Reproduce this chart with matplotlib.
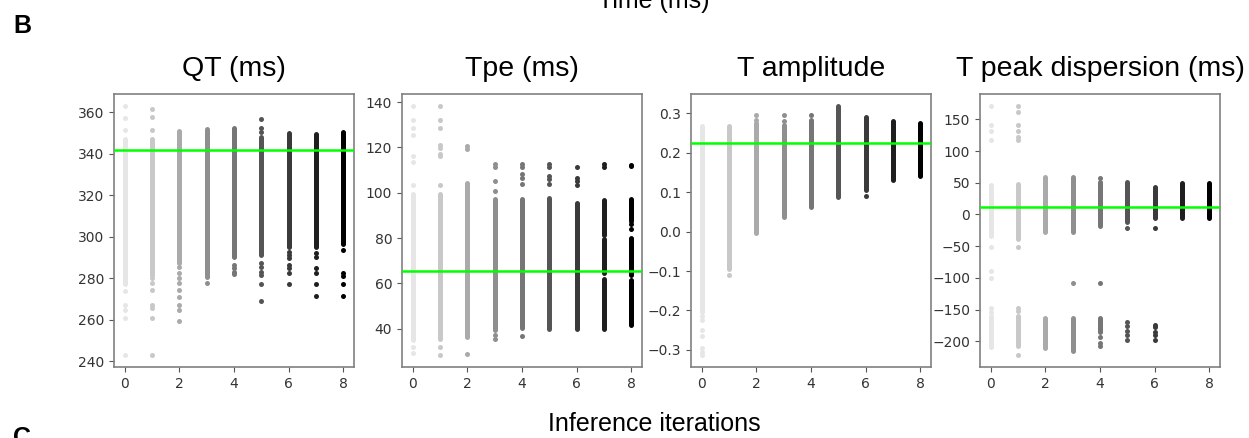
import matplotlib
matplotlib.use("Agg")
import matplotlib.pyplot as plt

# ---------------- data ----------------
iterations = [0, 1, 2, 3, 4, 5, 6, 7, 8]
iter_colors = ["#e6e6e6", "#c8c8c8", "#aaaaaa", "#8f8f8f", "#767676",
               "#555555", "#3a3a3a", "#1f1f1f", "#000000"]

titles = ["QT (ms)", "Tpe (ms)", "T amplitude", "T peak dispersion (ms)"]

# QT (ms): dense value ranges and isolated values per iteration
qt_bands = [[(277, 347)], [(281.6, 347)], [(287.2, 350.9)], [(280.8, 352)],
            [(290.4, 352.5)], [(291.2, 348)], [(295.2, 349.9)], [(295.2, 349.6)],
            [(296.5, 350.4)]]
qt_points = [[362.7, 357.3, 351.5, 273.6, 267.2, 264.8, 260.8, 243.2],
             [361.6, 357.6, 351.5, 280, 277.6, 274.4, 267.2, 265.6, 260.8, 243.2],
             [285.6, 282.4, 280, 277.6, 274.4, 270.9, 267.2, 264.8, 259.2],
             [277.6],
             [286.4, 284.8, 283.2, 282],
             [356.8, 352.3, 350.4, 287.2, 285.6, 283.2, 281.6, 277.3, 269.1],
             [292.8, 291.2, 289.6, 286.4, 284.8, 282.7, 277.3],
             [292, 290, 284.8, 282.4, 277.3, 271.2],
             [293.6, 282.7, 281.1, 277.3, 271.2]]
qt_ref = 341.6

# Tpe (ms)
tpe_bands = [[(35, 99.5)], [(35.6, 99.3)], [(36.3, 104.4)], [(39.3, 97.4)],
             [(40.3, 97.1)], [(40, 97.8)], [(40, 95.6)],
             [(40, 62), (64.5, 79.5), (81.5, 96.7)],
             [(41.5, 61.5), (63.5, 80), (87.5, 97.4)]]
tpe_points = [[138.1, 132.2, 128.6, 125.7, 116.1, 113.6, 103.4, 32, 29.3],
              [138.1, 132.2, 128.6, 121, 119.8, 116.9, 116.1, 103.3, 32, 28.6],
              [120.5, 119.1, 28.7],
              [112.5, 111.5, 105.2, 100.8, 37.1, 35.3],
              [112.5, 111.5, 108.1, 106.6, 103.7, 36.8],
              [112.5, 111.5, 107.5, 106, 104],
              [111.4, 106.5, 105.2, 103.4],
              [112.5, 111.5],
              [112.2, 111.6, 86, 84]]
tpe_ref = 65.5

# T amplitude
tamp_bands = [[(-0.203, 0.269)], [(-0.094, 0.269)], [(-0.004, 0.275)], [(0.038, 0.271)],
              [(0.063, 0.283)], [(0.088, 0.318)], [(0.107, 0.29)], [(0.13, 0.282)],
              [(0.142, 0.277)]]
tamp_points = [[-0.215, -0.225, -0.25, -0.265, -0.295, -0.305, -0.312],
               [-0.109],
               [0.296, 0.283],
               [0.296, 0.281],
               [0.296],
               [],
               [0.09],
               [],
               []]
tamp_ref = 0.2245

# T peak dispersion (ms)
tpd_bands = [[(-209.5, -159.8), (-34.4, 46.6)],
             [(-206.8, -159.8), (-38.6, 47.6)],
             [(-211, -164), (-28.2, 58.6)],
             [(-214.7, -164), (-28.2, 59.6)],
             [(-186, -164), (-18.8, 51.8)],
             [(-12.5, 51.8)],
             [(-5.7, 44)],
             [(-5.7, 49.2)],
             [(-5.7, 50)]]
tpd_points = [[170.4, 140.6, 131.7, 118.1, -51.7, -89.3, -99.7, -146.8, -153.6],
              [170.4, 161, 140.6, 131.7, 122, 118, -51.7, -146.8, -152, -221],
              [],
              [-108.6],
              [57, -108.6, -194, -202, -207],
              [-21.4, -170.3, -176.5, -183.3, -190, -197.4],
              [-21.4, -174.5, -178, -186, -190, -197.4],
              [],
              []]
tpd_ref = 11.5

all_bands = [qt_bands, tpe_bands, tamp_bands, tpd_bands]
all_points = [qt_points, tpe_points, tamp_points, tpd_points]
all_refs = [qt_ref, tpe_ref, tamp_ref, tpd_ref]
y_ticks = [[240, 260, 280, 300, 320, 340, 360],
           [40, 60, 80, 100, 120, 140],
           [-0.3, -0.2, -0.1, 0.0, 0.1, 0.2, 0.3],
           [-200, -150, -100, -50, 0, 50, 100, 150]]
x_ticks = [0, 2, 4, 6, 8]

# ---------------- figure ----------------
W, H = 1249, 438
fig = plt.figure(figsize=(W / 100, H / 100), dpi=100)

lefts_px = [114, 402, 691, 980]
ax_w_px, top_px, bot_px = 240, 94, 367
sans = ["Liberation Sans", "DejaVu Sans"]

dot_pt = 3.6
for k in range(4):
    ax = fig.add_axes([lefts_px[k] / W, (H - bot_px) / H, ax_w_px / W,
                       (bot_px - top_px) / H])
    for i, it in enumerate(iterations):
        c = iter_colors[i]
        for lo, hi in all_bands[k][i]:
            ax.plot([it, it], [lo, hi], color=c, lw=dot_pt,
                    solid_capstyle="round", zorder=2)
        pts = all_points[k][i]
        if pts:
            ax.scatter([it] * len(pts), pts, s=dot_pt ** 2, color=c,
                       linewidths=0, zorder=2)
    ax.axhline(all_refs[k], color="#00ff00", lw=1.8, zorder=3)
    ax.set_xticks(x_ticks)
    ax.set_yticks(y_ticks[k])
    ax.margins(x=0.05, y=0.05)
    ax.tick_params(labelsize=10, colors="#333333", length=3.5, width=0.8)
    ax.tick_params(axis="both", color="#555555")
    for sp in ax.spines.values():
        sp.set_color("#808080")
        sp.set_linewidth(1.2)
    ax.set_title(titles[k], fontsize=20.5, family=sans, pad=13)

fig.text(13 / W, 1 - 33 / H, "B", fontsize=18, fontweight="bold",
         family=sans, va="baseline", ha="left")
fig.text(13 / W, -7 / H, "C", fontsize=18, fontweight="bold",
         family=sans, va="baseline", ha="left")
fig.text(654 / W, 1 - 8 / H, "Time (ms)", fontsize=18, family=sans,
         va="baseline", ha="center")
fig.text(654 / W, 1 - 431 / H, "Inference iterations", fontsize=18,
         family=sans, va="baseline", ha="center")

fig.savefig("out.png", dpi=100)
